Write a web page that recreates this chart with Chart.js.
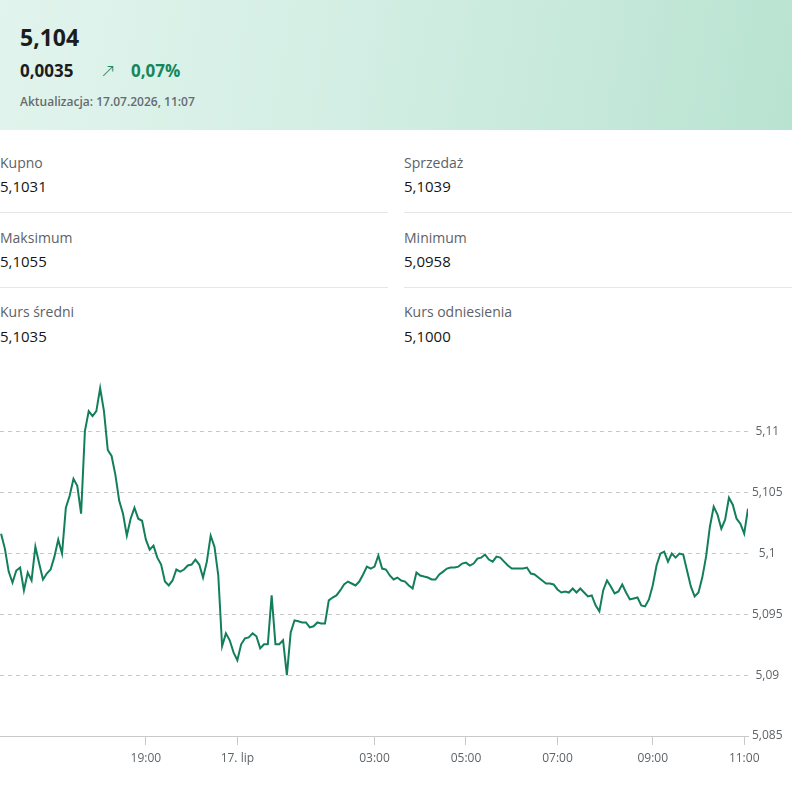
<!DOCTYPE html>
<html lang="pl">
<head>
<meta charset="utf-8">
<script src="https://cdn.jsdelivr.net/npm/chart.js@4.4.1/dist/chart.umd.min.js"></script>
<style>
  html, body { margin: 0; padding: 0; background: #fff; }
  body { width: 792px; height: 790px; position: relative; overflow: hidden; font-family: "Open Sans", "Noto Sans", sans-serif; color: #222; }
  .hdr { position: absolute; left: 0; top: 0; width: 792px; height: 130px;
         background: linear-gradient(100deg, #e1f4ed 0%, #d3eee4 45%, #b9e3d1 100%); }
  .price { position: absolute; left: 20px; top: 22px; font-size: 23px; font-weight: 700; color: #1c1c1c; line-height: 30px; }
  .chg { position: absolute; left: 20px; top: 59px; font-size: 17px; font-weight: 700; color: #1c1c1c; line-height: 24px; }
  .arrow { position: absolute; left: 100px; top: 57px; font-size: 19px; font-weight: 300; color: #17885c; line-height: 26px; font-family: "DejaVu Sans", sans-serif; }
  .pct { position: absolute; left: 131px; top: 59px; font-size: 17px; font-weight: 700; color: #15875b; line-height: 24px; }
  .upd { position: absolute; left: 20px; top: 94px; font-size: 12px; font-weight: 600; color: #666c70; line-height: 16px; }
  .lab { font-size: 14px; color: #5d6266; line-height: 20px; position: absolute; }
  .val { font-size: 15px; color: #151515; line-height: 20px; position: absolute; }
  .sep { position: absolute; height: 1px; background: #e6e6e6; }
  #wrap { position: absolute; left: 0; top: 360px; width: 792px; height: 430px; }
</style>
</head>
<body>
<div class="hdr">
  <div class="price">5,104</div>
  <div class="chg">0,0035</div>
  <div class="arrow">↗</div>
  <div class="pct">0,07%</div>
  <div class="upd">Aktualizacja: 17.07.2026, 11:07</div>
</div>

<div class="lab" style="left:0;top:153px">Kupno</div>
<div class="val" style="left:0;top:176px">5,1031</div>
<div class="lab" style="left:404px;top:153px">Sprzedaż</div>
<div class="val" style="left:404px;top:176px">5,1039</div>
<div class="sep" style="left:0;top:212px;width:388px"></div>
<div class="sep" style="left:404px;top:212px;width:388px"></div>

<div class="lab" style="left:0;top:228px">Maksimum</div>
<div class="val" style="left:0;top:251px">5,1055</div>
<div class="lab" style="left:404px;top:228px">Minimum</div>
<div class="val" style="left:404px;top:251px">5,0958</div>
<div class="sep" style="left:0;top:287px;width:388px"></div>
<div class="sep" style="left:404px;top:287px;width:388px"></div>

<div class="lab" style="left:0;top:302px">Kurs średni</div>
<div class="val" style="left:0;top:326px">5,1035</div>
<div class="lab" style="left:404px;top:302px">Kurs odniesienia</div>
<div class="val" style="left:404px;top:326px">5,1000</div>

<div id="wrap"><canvas id="c" width="792" height="430"></canvas></div>

<script>
// Rate values sampled every 5 minutes of trading time (ordinal axis, gaps compressed)
const rates = [
5.10164,5.10041,5.09852,5.09762,5.09861,5.09885,5.09697,5.09844,5.09779,5.10057,
5.09918,5.09787,5.09836,5.09869,5.09975,5.10115,5.10000,5.10377,5.10475,5.10615,
5.10557,5.10328,5.11008,5.11172,5.11131,5.11172,5.11361,5.11172,5.10852,5.10803,
5.10648,5.10434,5.10328,5.10148,5.10287,5.10377,5.10287,5.10270,5.10115,5.10033,
5.10066,5.09967,5.09910,5.09770,5.09738,5.09779,5.09869,5.09852,5.09869,5.09902,
5.09910,5.09951,5.09910,5.09803,5.09934,5.10148,5.10057,5.09820,5.09238,5.09344,
5.09287,5.09188,5.09123,5.09254,5.09303,5.09311,5.09344,5.09320,5.09221,5.09254,
5.09254,5.09656,5.09254,5.09254,5.09287,5.09000,5.09352,5.09451,5.09443,5.09434,
5.09434,5.09393,5.09402,5.09434,5.09426,5.09426,5.09615,5.09639,5.09656,5.09697,
5.09746,5.09770,5.09754,5.09738,5.09770,5.09828,5.09893,5.09877,5.09893,5.09984,
5.09877,5.09869,5.09820,5.09787,5.09803,5.09779,5.09770,5.09738,5.09713,5.09844,
5.09820,5.09811,5.09803,5.09787,5.09787,5.09828,5.09852,5.09877,5.09885,5.09885,
5.09893,5.09918,5.09926,5.09902,5.09918,5.09959,5.09967,5.09992,5.09951,5.09934,
5.09975,5.09967,5.09934,5.09902,5.09877,5.09877,5.09877,5.09877,5.09885,5.09836,
5.09828,5.09803,5.09779,5.09754,5.09754,5.09746,5.09705,5.09680,5.09689,5.09680,
5.09713,5.09680,5.09713,5.09680,5.09648,5.09656,5.09574,5.09525,5.09697,5.09779,
5.09730,5.09672,5.09689,5.09746,5.09680,5.09623,5.09631,5.09639,5.09574,5.09566,
5.09623,5.09738,5.09902,5.10000,5.10016,5.09934,5.10000,5.09967,5.10000,5.09992,
5.09861,5.09730,5.09648,5.09680,5.09803,5.09975,5.10221,5.10385,5.10320,5.10205,
5.10279,5.10459,5.10402,5.10287,5.10246,5.10164,5.10369
];
// Sample index at which each time label falls
const timeTickIndex = [38, 62, 98, 122, 146, 171, 195];
const timeTickLabels = ['19:00', '17. lip', '03:00', '05:00', '07:00', '09:00', '11:00'];
// Rate axis ticks
const rateTicks = [5.085, 5.09, 5.095, 5.1, 5.105, 5.11];
const rateMin = 5.085;
const rateMax = 5.115;

const points = rates.map((v, i) => ({ x: i, y: v }));
const fmt = v => String(parseFloat(v.toFixed(4))).replace('.', ',');

new Chart(document.getElementById('c'), {
  type: 'line',
  data: { datasets: [{
    data: points,
    borderColor: '#137f59',
    borderWidth: 2,
    pointRadius: 0,
    pointHoverRadius: 0,
    tension: 0,
    fill: false
  }]},
  options: {
    responsive: false,
    animation: false,
    events: [],
    layout: { padding: { top: 10, left: 0, right: 0, bottom: 0 } },
    plugins: { legend: { display: false }, tooltip: { enabled: false } },
    scales: {
      x: {
        type: 'linear',
        min: -0.28,
        max: rates.length - 1,
        afterBuildTicks: s => { s.ticks = timeTickIndex.map(v => ({ value: v })); },
        afterFit: s => { s.height = 54; },
        ticks: {
          autoSkip: false, maxRotation: 0, minRotation: 0, padding: 6,
          color: '#5f6468',
          font: { family: 'Open Sans', size: 12 },
          callback: (v, i) => timeTickLabels[i]
        },
        grid: { drawOnChartArea: false, drawTicks: true, tickLength: 9, color: '#c9c9c9', lineWidth: 1 },
        border: { display: true, color: '#c9c9c9', width: 1 }
      },
      y: {
        type: 'linear',
        position: 'right',
        min: rateMin,
        max: rateMax,
        afterBuildTicks: s => { s.ticks = rateTicks.map(v => ({ value: v })); },
        afterFit: s => { s.width = 44; },
        ticks: {
          padding: 4, crossAlign: 'center',
          color: '#5f6468',
          font: { family: 'Open Sans', size: 12 },
          callback: v => fmt(v)
        },
        grid: {
          drawTicks: false,
          color: ctx => (ctx.tick && Math.abs(ctx.tick.value - rateMin) < 1e-9) ? 'rgba(0,0,0,0)' : '#c8c8c8',
          lineWidth: 1
        },
        border: { display: false, dash: [4, 4] }
      }
    }
  }
});
</script>
</body>
</html>
